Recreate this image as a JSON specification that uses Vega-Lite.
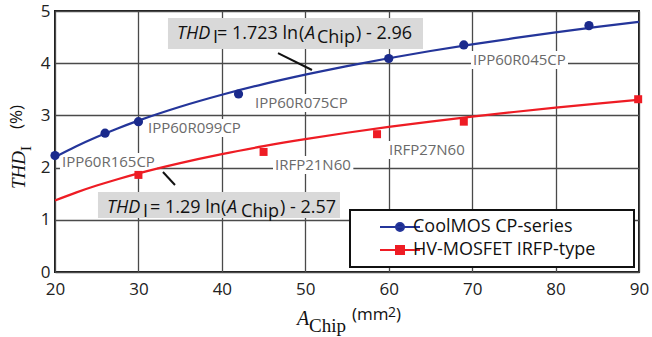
{
  "$schema": "https://vega.github.io/schema/vega-lite/v6.json",
  "width": 584,
  "height": 261,
  "autosize": {"type": "none"},
  "padding": {"left": 55, "top": 11, "right": 13, "bottom": 65},
  "background": "white",
  "config": {
    "view": {"stroke": "#1a1a1a", "strokeWidth": 2},
    "axis": {"grid": true, "gridColor": "#4a4a4a", "gridWidth": 1.3, "domain": false, "ticks": false, "labelFont": "Open Sans", "labelFontSize": 17, "labelColor": "#222", "labelPadding": 9, "labelFlush": false},
    "axisY": {"labelPadding": 5},
    "legend": {"strokeColor": "#111", "strokeWidth": 2, "fillColor": "white"}
  },
  "datasets": {
    "curve": [
      {"series": "CoolMOS CP-series", "x": 20, "y": 2.202}, {"series": "CoolMOS CP-series", "x": 22.5, "y": 2.405},
      {"series": "CoolMOS CP-series", "x": 25, "y": 2.586}, {"series": "CoolMOS CP-series", "x": 27.5, "y": 2.750},
      {"series": "CoolMOS CP-series", "x": 30, "y": 2.900}, {"series": "CoolMOS CP-series", "x": 35, "y": 3.166},
      {"series": "CoolMOS CP-series", "x": 40, "y": 3.396}, {"series": "CoolMOS CP-series", "x": 45, "y": 3.599},
      {"series": "CoolMOS CP-series", "x": 50, "y": 3.780}, {"series": "CoolMOS CP-series", "x": 55, "y": 3.945},
      {"series": "CoolMOS CP-series", "x": 60, "y": 4.095}, {"series": "CoolMOS CP-series", "x": 65, "y": 4.233},
      {"series": "CoolMOS CP-series", "x": 70, "y": 4.360}, {"series": "CoolMOS CP-series", "x": 75, "y": 4.479},
      {"series": "CoolMOS CP-series", "x": 80, "y": 4.590}, {"series": "CoolMOS CP-series", "x": 85, "y": 4.695},
      {"series": "CoolMOS CP-series", "x": 90, "y": 4.793},
      {"series": "HV-MOSFET IRFP-type", "x": 20, "y": 1.370}, {"series": "HV-MOSFET IRFP-type", "x": 22.5, "y": 1.521},
      {"series": "HV-MOSFET IRFP-type", "x": 25, "y": 1.656}, {"series": "HV-MOSFET IRFP-type", "x": 27.5, "y": 1.778},
      {"series": "HV-MOSFET IRFP-type", "x": 30, "y": 1.890}, {"series": "HV-MOSFET IRFP-type", "x": 35, "y": 2.087},
      {"series": "HV-MOSFET IRFP-type", "x": 40, "y": 2.259}, {"series": "HV-MOSFET IRFP-type", "x": 45, "y": 2.410},
      {"series": "HV-MOSFET IRFP-type", "x": 50, "y": 2.545}, {"series": "HV-MOSFET IRFP-type", "x": 55, "y": 2.667},
      {"series": "HV-MOSFET IRFP-type", "x": 60, "y": 2.779}, {"series": "HV-MOSFET IRFP-type", "x": 65, "y": 2.882},
      {"series": "HV-MOSFET IRFP-type", "x": 70, "y": 2.977}, {"series": "HV-MOSFET IRFP-type", "x": 75, "y": 3.065},
      {"series": "HV-MOSFET IRFP-type", "x": 80, "y": 3.148}, {"series": "HV-MOSFET IRFP-type", "x": 85, "y": 3.226},
      {"series": "HV-MOSFET IRFP-type", "x": 90, "y": 3.299}
    ],
    "points": [
      {"series": "CoolMOS CP-series", "x": 20, "y": 2.23},
      {"series": "CoolMOS CP-series", "x": 26, "y": 2.66},
      {"series": "CoolMOS CP-series", "x": 30, "y": 2.88},
      {"series": "CoolMOS CP-series", "x": 42, "y": 3.41},
      {"series": "CoolMOS CP-series", "x": 60, "y": 4.09},
      {"series": "CoolMOS CP-series", "x": 69, "y": 4.35},
      {"series": "CoolMOS CP-series", "x": 84, "y": 4.72},
      {"series": "HV-MOSFET IRFP-type", "x": 30, "y": 1.86},
      {"series": "HV-MOSFET IRFP-type", "x": 45, "y": 2.30},
      {"series": "HV-MOSFET IRFP-type", "x": 58.6, "y": 2.64},
      {"series": "HV-MOSFET IRFP-type", "x": 69, "y": 2.88},
      {"series": "HV-MOSFET IRFP-type", "x": 89.9, "y": 3.31}
    ],
    "annBoxes": [
      {"x1": 33.54, "x2": 64.11, "y1": 4.866, "y2": 4.272},
      {"x1": 25.15, "x2": 54.16, "y1": 1.533, "y2": 1.034}
    ],
    "labelBoxes": [
      {"x1": 20.60, "x2": 32.23, "y1": 2.279, "y2": 1.935},
      {"x1": 30.91, "x2": 42.53, "y1": 2.931, "y2": 2.587},
      {"x1": 43.73, "x2": 55.36, "y1": 3.410, "y2": 3.066},
      {"x1": 69.86, "x2": 81.49, "y1": 4.233, "y2": 3.889},
      {"x1": 46.13, "x2": 55.76, "y1": 2.222, "y2": 1.878},
      {"x1": 59.79, "x2": 69.62, "y1": 2.509, "y2": 2.165}
    ],
    "leaders": [
      {"x1": 46.73, "y1": 4.195, "x2": 50.80, "y2": 3.870},
      {"x1": 32.94, "y1": 1.916, "x2": 34.38, "y2": 1.667}
    ],
    "pointLabels": [
      {"t": "IPP60R165CP", "x": 20.84, "y": 2.107},
      {"t": "IPP60R099CP", "x": 31.15, "y": 2.759},
      {"t": "IPP60R075CP", "x": 43.97, "y": 3.238},
      {"t": "IPP60R045CP", "x": 70.10, "y": 4.061},
      {"t": "IRFP21N60", "x": 46.37, "y": 2.050},
      {"t": "IRFP27N60", "x": 60.03, "y": 2.337}
    ],
    "annItalic": [
      {"t": "THD", "x": 34.62, "y": 4.473},
      {"t": "A", "x": 49.97, "y": 4.473},
      {"t": "THD", "x": 26.23, "y": 1.130},
      {"t": "A", "x": 40.62, "y": 1.130}
    ],
    "annRegular": [
      {"t": "I", "x": 38.94, "y": 4.387},
      {"t": "= 1.723 ln", "x": 39.42, "y": 4.473},
      {"t": "(", "x": 49.25, "y": 4.473},
      {"t": "Chip", "x": 51.40, "y": 4.387},
      {"t": ") - 2.96", "x": 56.08, "y": 4.473},
      {"t": "I", "x": 30.55, "y": 1.063},
      {"t": "= 1.29 ln", "x": 31.39, "y": 1.130},
      {"t": "(", "x": 39.90, "y": 1.130},
      {"t": "Chip", "x": 42.29, "y": 1.063},
      {"t": ") - 2.57", "x": 46.97, "y": 1.130}
    ],
    "xtItalic": [{"t": "A", "x": 49.00, "y": -1.015}],
    "xtSerif": [{"t": "Chip", "x": 50.45, "y": -1.149}],
    "xtSans": [{"t": "(mm", "x": 55.60, "y": -0.920}, {"t": ")", "x": 60.87, "y": -0.920}],
    "xtSup": [{"t": "2", "x": 59.91, "y": -0.862}],
    "ytItalic": [{"t": "THD", "x": 16.40, "y": 1.590}],
    "ytSerif": [{"t": "I", "x": 17.12, "y": 2.318}],
    "ytSans": [{"t": "(%)", "x": 16.04, "y": 2.739}]
  },
  "layer": [
    {
      "data": {"name": "annBoxes"},
      "mark": {"type": "rect", "fill": "#d9d9d9"},
      "encoding": {
        "x": {"field": "x1", "type": "quantitative", "title": null, "scale": {"domain": [20, 90], "nice": false, "zero": false}, "axis": {"values": [20, 30, 40, 50, 60, 70, 80, 90], "title": null}},
        "x2": {"field": "x2"},
        "y": {"field": "y1", "type": "quantitative", "title": null, "scale": {"domain": [0, 5], "nice": false, "zero": false}, "axis": {"values": [0, 1, 2, 3, 4, 5], "title": null}},
        "y2": {"field": "y2"}
      }
    },
    {
      "data": {"name": "labelBoxes"},
      "mark": {"type": "rect", "fill": "white"},
      "encoding": {
        "x": {"field": "x1", "type": "quantitative", "title": null},
        "x2": {"field": "x2"},
        "y": {"field": "y1", "type": "quantitative", "title": null},
        "y2": {"field": "y2"}
      }
    },
    {
      "data": {"name": "curve"},
      "transform": [{"filter": "datum.series == 'CoolMOS CP-series'"}],
      "mark": {"type": "line", "color": "#24359a", "strokeWidth": 2.2, "interpolate": "monotone"},
      "encoding": {
        "x": {"field": "x", "type": "quantitative", "title": null},
        "y": {"field": "y", "type": "quantitative", "title": null}
      }
    },
    {
      "data": {"name": "curve"},
      "transform": [{"filter": "datum.series == 'HV-MOSFET IRFP-type'"}],
      "mark": {"type": "line", "color": "#ee1c24", "strokeWidth": 2.2, "interpolate": "monotone"},
      "encoding": {
        "x": {"field": "x", "type": "quantitative", "title": null},
        "y": {"field": "y", "type": "quantitative", "title": null}
      }
    },
    {
      "data": {"name": "points"},
      "transform": [{"filter": "datum.series == 'CoolMOS CP-series'"}],
      "mark": {"type": "circle", "color": "#1a2a8c", "opacity": 1, "size": 85},
      "encoding": {
        "x": {"field": "x", "type": "quantitative", "title": null},
        "y": {"field": "y", "type": "quantitative", "title": null}
      }
    },
    {
      "data": {"name": "points"},
      "transform": [{"filter": "datum.series == 'HV-MOSFET IRFP-type'"}],
      "mark": {"type": "square", "color": "#ee1c24", "opacity": 1, "size": 64},
      "encoding": {
        "x": {"field": "x", "type": "quantitative", "title": null},
        "y": {"field": "y", "type": "quantitative", "title": null}
      }
    },
    {
      "data": {"name": "points"},
      "mark": {"type": "point", "filled": true, "opacity": 0, "size": 64, "strokeWidth": 2},
      "encoding": {
        "x": {"field": "x", "type": "quantitative", "title": null},
        "y": {"field": "y", "type": "quantitative", "title": null},
        "fill": {"field": "series", "type": "nominal", "title": null,
          "scale": {"domain": ["CoolMOS CP-series", "HV-MOSFET IRFP-type"], "range": ["#1a2a8c", "#ee1c24"]},
          "legend": {"orient": "bottom-right", "offset": 5, "title": null, "labelLimit": 400, "symbolSize": 64, "symbolOffset": 33, "labelOffset": 4, "padding": 8, "rowPadding": 5, "labelFont": "Open Sans", "labelFontSize": 18, "labelColor": "#111", "symbolStrokeWidth": 2,
            "encode": {"symbols": {"update": {"fill": {"scale": "fill", "field": "value"}, "fillOpacity": {"value": 1}, "opacity": {"value": 1}}}}}},
        "stroke": {"field": "series", "type": "nominal", "title": null,
          "scale": {"domain": ["CoolMOS CP-series", "HV-MOSFET IRFP-type"], "range": ["#24359a", "#ee1c24"]},
          "legend": {"orient": "bottom-right", "offset": 5, "title": null, "labelLimit": 400, "symbolSize": 64, "symbolOffset": 33, "labelOffset": 4, "padding": 8, "rowPadding": 5, "labelFont": "Open Sans", "labelFontSize": 18, "labelColor": "#111", "symbolStrokeWidth": 2,
            "encode": {"symbols": {"update": {"fill": {"scale": "fill", "field": "value"}, "fillOpacity": {"value": 1}, "opacity": {"value": 1}}}}}},
        "shape": {"field": "series", "type": "nominal", "title": null,
          "scale": {"domain": ["CoolMOS CP-series", "HV-MOSFET IRFP-type"], "range": ["M-5,0H5M1,0A1,1,0,1,1,-1,0A1,1,0,1,1,1,0ZM55.5,0", "M-5,0H5M-1,-1H1V1H-1ZM55.5,0"]},
          "legend": {"orient": "bottom-right", "offset": 5, "title": null, "labelLimit": 400, "symbolSize": 64, "symbolOffset": 33, "labelOffset": 4, "padding": 8, "rowPadding": 5, "labelFont": "Open Sans", "labelFontSize": 18, "labelColor": "#111", "symbolStrokeWidth": 2,
            "encode": {"symbols": {"update": {"fill": {"scale": "fill", "field": "value"}, "fillOpacity": {"value": 1}, "opacity": {"value": 1}}}}}}
      }
    },
    {
      "data": {"name": "leaders"},
      "mark": {"type": "rule", "color": "#111", "strokeWidth": 2},
      "encoding": {
        "x": {"field": "x1", "type": "quantitative", "title": null},
        "y": {"field": "y1", "type": "quantitative", "title": null},
        "x2": {"field": "x2"},
        "y2": {"field": "y2"}
      }
    },
    {
      "data": {"name": "pointLabels"},
      "mark": {"type": "text", "align": "left", "baseline": "middle", "font": "Open Sans", "fontSize": 15, "color": "#6a6a6a"},
      "encoding": {
        "x": {"field": "x", "type": "quantitative", "title": null},
        "y": {"field": "y", "type": "quantitative", "title": null},
        "text": {"field": "t"}
      }
    },
    {
      "data": {"name": "annItalic"},
      "mark": {"type": "text", "align": "left", "baseline": "alphabetic", "font": "Open Sans", "fontSize": 18, "fontStyle": "italic", "color": "#111"},
      "encoding": {
        "x": {"field": "x", "type": "quantitative", "title": null},
        "y": {"field": "y", "type": "quantitative", "title": null},
        "text": {"field": "t"}
      }
    },
    {
      "data": {"name": "annRegular"},
      "mark": {"type": "text", "align": "left", "baseline": "alphabetic", "font": "Open Sans", "fontSize": 18, "color": "#111"},
      "encoding": {
        "x": {"field": "x", "type": "quantitative", "title": null},
        "y": {"field": "y", "type": "quantitative", "title": null},
        "text": {"field": "t"}
      }
    },
    {
      "data": {"name": "xtItalic"},
      "mark": {"type": "text", "align": "left", "baseline": "alphabetic", "font": "Liberation Serif", "fontSize": 20, "fontStyle": "italic", "color": "#111"},
      "encoding": {
        "x": {"field": "x", "type": "quantitative", "title": null},
        "y": {"field": "y", "type": "quantitative", "title": null},
        "text": {"field": "t"}
      }
    },
    {
      "data": {"name": "xtSerif"},
      "mark": {"type": "text", "align": "left", "baseline": "alphabetic", "font": "Liberation Serif", "fontSize": 19, "color": "#111"},
      "encoding": {
        "x": {"field": "x", "type": "quantitative", "title": null},
        "y": {"field": "y", "type": "quantitative", "title": null},
        "text": {"field": "t"}
      }
    },
    {
      "data": {"name": "xtSans"},
      "mark": {"type": "text", "align": "left", "baseline": "alphabetic", "font": "Open Sans", "fontSize": 17, "color": "#111"},
      "encoding": {
        "x": {"field": "x", "type": "quantitative", "title": null},
        "y": {"field": "y", "type": "quantitative", "title": null},
        "text": {"field": "t"}
      }
    },
    {
      "data": {"name": "xtSup"},
      "mark": {"type": "text", "align": "left", "baseline": "alphabetic", "font": "Open Sans", "fontSize": 14, "color": "#111"},
      "encoding": {
        "x": {"field": "x", "type": "quantitative", "title": null},
        "y": {"field": "y", "type": "quantitative", "title": null},
        "text": {"field": "t"}
      }
    },
    {
      "data": {"name": "ytItalic"},
      "mark": {"type": "text", "align": "left", "baseline": "alphabetic", "angle": 270, "font": "Liberation Serif", "fontSize": 19, "fontStyle": "italic", "color": "#111"},
      "encoding": {
        "x": {"field": "x", "type": "quantitative", "title": null},
        "y": {"field": "y", "type": "quantitative", "title": null},
        "text": {"field": "t"}
      }
    },
    {
      "data": {"name": "ytSerif"},
      "mark": {"type": "text", "align": "left", "baseline": "alphabetic", "angle": 270, "font": "Liberation Serif", "fontSize": 15, "color": "#111"},
      "encoding": {
        "x": {"field": "x", "type": "quantitative", "title": null},
        "y": {"field": "y", "type": "quantitative", "title": null},
        "text": {"field": "t"}
      }
    },
    {
      "data": {"name": "ytSans"},
      "mark": {"type": "text", "align": "left", "baseline": "alphabetic", "angle": 270, "font": "Open Sans", "fontSize": 17, "color": "#111"},
      "encoding": {
        "x": {"field": "x", "type": "quantitative", "title": null},
        "y": {"field": "y", "type": "quantitative", "title": null},
        "text": {"field": "t"}
      }
    }
  ]
}
